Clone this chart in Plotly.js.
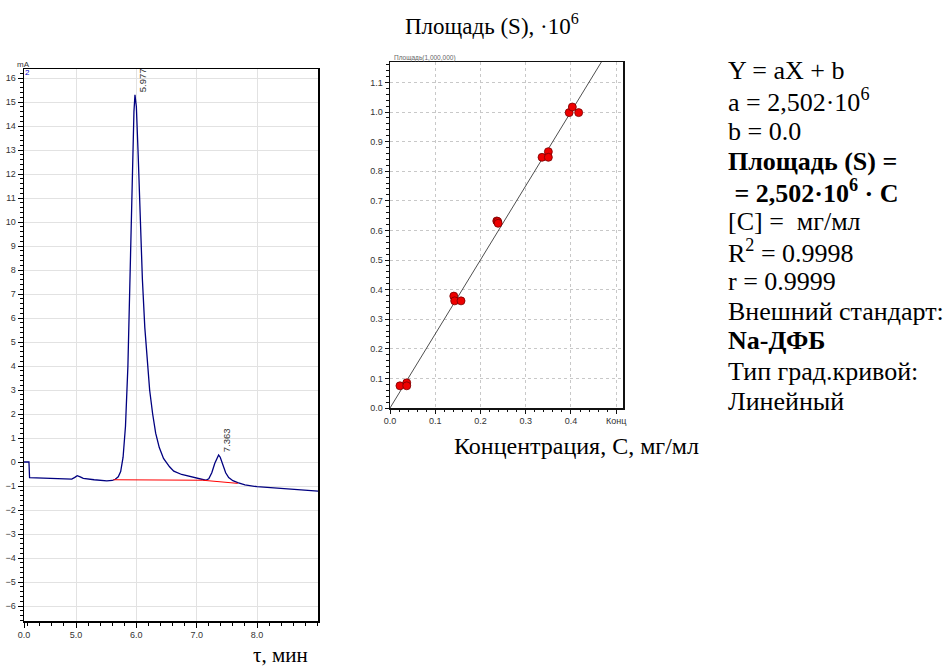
<!DOCTYPE html>
<html><head><meta charset="utf-8">
<script src="https://cdn.plot.ly/plotly-3.0.1.min.js"></script>
<style>html,body{margin:0;padding:0;background:#fff}#c{width:949px;height:666px}</style>
</head><body><div id="c"></div>
<script>
// Chromatogram (time, min ; signal, mA)
const chromT = [4.138,4.22,4.23,4.4,4.62,4.8,4.93,4.98,5.02,5.07,5.12,5.3,5.51,5.6,5.65,5.7,5.74,5.78,5.82,5.86,5.89,5.93,5.96,5.977,6.0,6.03,6.06,6.1,6.14,6.18,6.22,6.27,6.32,6.38,6.45,6.55,6.62,6.75,6.85,6.95,7.05,7.15,7.2,7.25,7.3,7.34,7.363,7.39,7.43,7.48,7.53,7.6,7.68,7.8,8.0,8.3,8.6,8.8,9.01];
const chromY = [0,0,-0.65,-0.66,-0.68,-0.70,-0.71,-0.64,-0.57,-0.62,-0.68,-0.74,-0.79,-0.77,-0.72,-0.62,-0.40,0.2,1.5,4.0,7.5,11.5,14.6,15.3,14.8,12.8,10.3,7.6,5.6,4.1,3.0,2.0,1.2,0.6,0.15,-0.2,-0.38,-0.52,-0.58,-0.65,-0.70,-0.76,-0.70,-0.45,-0.05,0.22,0.29,0.2,-0.1,-0.45,-0.65,-0.78,-0.86,-0.95,-1.03,-1.08,-1.13,-1.16,-1.21];
const baseT = [5.62,7.1,7.68];
const baseY = [-0.74,-0.76,-0.89];
const peakT = [5.977,7.363];
const peakY = [15.3,0.29];
const peakLabels = ['5.977','7.363'];
const chromTickVals = [4.138,5,6,7,8];
const chromTickText = ['0.0','5.0','6.0','7.0','8.0'];

// Calibration (concentration, mg/ml ; area, x10^6)
const calX = [0.022,0.037,0.037,0.141,0.143,0.157,0.236,0.238,0.239,0.336,0.350,0.350,0.396,0.403,0.417];
const calY = [0.075,0.085,0.075,0.378,0.362,0.362,0.632,0.630,0.624,0.847,0.866,0.847,0.998,1.017,0.998];
const fitX = [0,0.47];
const fitY = [0,1.176];
const calTickVals = [0,0.1,0.2,0.3,0.4,0.5];
const calTickText = ['0.0','0.1','0.2','0.3','0.4','Конц'];

const infoLines = ['Y = aX + b','a = 2,502·10<sup>6</sup>','b = 0.0','<b>Площадь (S) =</b>','<b>\u00a0= 2,502·10<sup>6</sup> · C</b>','[C] =\u00a0\u00a0мг/мл','R<sup>2</sup> = 0.9998','r = 0.9999','Внешний стандарт:','<b>Na-ДФБ</b>','Тип град.кривой:','Линейный'];

const W=949,H=666;
const px=x=>x/W, py=y=>1-y/H;
const serif='"Liberation Serif", "Times New Roman", serif';
const sans='"Liberation Sans", Arial, sans-serif';

const traces = [
 {x:chromT,y:chromY,type:'scatter',mode:'lines',line:{color:'#000080',width:1.3},xaxis:'x',yaxis:'y',hoverinfo:'skip'},
 {x:baseT,y:baseY,type:'scatter',mode:'lines',line:{color:'#ff0000',width:1},xaxis:'x',yaxis:'y',hoverinfo:'skip'},
 {x:fitX,y:fitY,type:'scatter',mode:'lines',line:{color:'#222',width:0.8},xaxis:'x2',yaxis:'y2'},
 {x:calX,y:calY,type:'scatter',mode:'markers',marker:{color:'#ee0000',size:8,line:{color:'#700',width:0.8}},xaxis:'x2',yaxis:'y2'}
];

function ann(x,y,text,font,xa,ya,extra){return Object.assign({x:px(x),y:py(y),xref:'paper',yref:'paper',text:text,showarrow:false,xanchor:xa||'center',yanchor:ya||'middle',font:font},extra||{});}

const annotations = [];
peakT.forEach((t,i)=>annotations.push({x:t,y:peakY[i],xref:'x',yref:'y',text:peakLabels[i],showarrow:false,textangle:-90,xanchor:'left',yanchor:'bottom',yshift:1,font:{family:sans,size:9.5,color:'#333'}}));
annotations.push(ann(23,64,'mA',{family:sans,size:8,color:'#333'}));
annotations.push(ann(27,72,'2',{family:sans,size:8,color:'#0000cc'}));
annotations.push(ann(252,666,'τ, мин',{family:serif,size:21,color:'#000'},'left','bottom',{yshift:-2,borderpad:0}));
annotations.push(ann(492,25,'Площадь (S), ·10<sup>6</sup>',{family:serif,size:23,color:'#000'}));
annotations.push(ann(576,446,'Концентрация, С, мг/мл',{family:serif,size:24,color:'#000'}));
annotations.push(ann(425,58,'Площадь(1,000,000)',{family:sans,size:6.5,color:'#666'}));
infoLines.forEach((t,i)=>annotations.push(ann(726,71+i*30,t,{family:serif,size:26,color:'#000'},'left','middle')));

const layout = {
 width:W,height:H,margin:{l:0,r:0,t:0,b:0},paper_bgcolor:'#fff',plot_bgcolor:'#fff',showlegend:false,
 font:{family:sans,size:9,color:'#333'},
 xaxis:{domain:[px(24),px(318)],range:[4.138,9.01],tickmode:'array',tickvals:chromTickVals,ticktext:chromTickText,
   showgrid:true,gridcolor:'#e2e2e2',gridwidth:1,zeroline:false,showline:true,linecolor:'#000',linewidth:1.5,mirror:true,
   ticks:'outside',ticklen:5,tickcolor:'#000',tickfont:{family:sans,size:9,color:'#333'},
   minor:{tickmode:'linear',tick0:0,dtick:0.2,ticklen:3,tickcolor:'#000',showgrid:false},anchor:'y'},
 yaxis:{domain:[py(621),py(69)],range:[-6.625,16.375],tickmode:'linear',tick0:0,dtick:1,
   showgrid:true,gridcolor:'#e2e2e2',gridwidth:1,zeroline:false,showline:true,linecolor:'#000',linewidth:1.5,mirror:true,
   ticks:'outside',ticklen:5,tickcolor:'#000',tickfont:{family:sans,size:9,color:'#333'},
   minor:{tickmode:'linear',tick0:0,dtick:0.2,ticklen:3,tickcolor:'#000',showgrid:false},anchor:'x'},
 xaxis2:{domain:[px(390),px(623)],range:[0,0.515],tickmode:'array',tickvals:calTickVals,ticktext:calTickText,
   showgrid:true,gridcolor:'#c8c8c8',griddash:'dot',zeroline:false,showline:true,linecolor:'#111',linewidth:1.5,mirror:true,
   ticks:'outside',ticklen:4,tickcolor:'#111',tickfont:{family:sans,size:9,color:'#333'},
   minor:{tickmode:'linear',tick0:0,dtick:0.02,ticklen:2.5,tickcolor:'#111',showgrid:false},anchor:'y2'},
 yaxis2:{domain:[py(408),py(62)],range:[0,1.169],tickmode:'linear',tick0:0,dtick:0.1,tickformat:'.1f',
   showgrid:true,gridcolor:'#c8c8c8',griddash:'dot',zeroline:false,showline:true,linecolor:'#111',linewidth:1.5,mirror:true,
   ticks:'outside',ticklen:4,tickcolor:'#111',tickfont:{family:sans,size:9,color:'#333'},
   minor:{tickmode:'linear',tick0:0,dtick:0.02,ticklen:2.5,tickcolor:'#111',showgrid:false},anchor:'x2'},
 annotations:annotations
};
Plotly.newPlot('c',traces,layout,{staticPlot:true,displayModeBar:false});
</script></body></html>
